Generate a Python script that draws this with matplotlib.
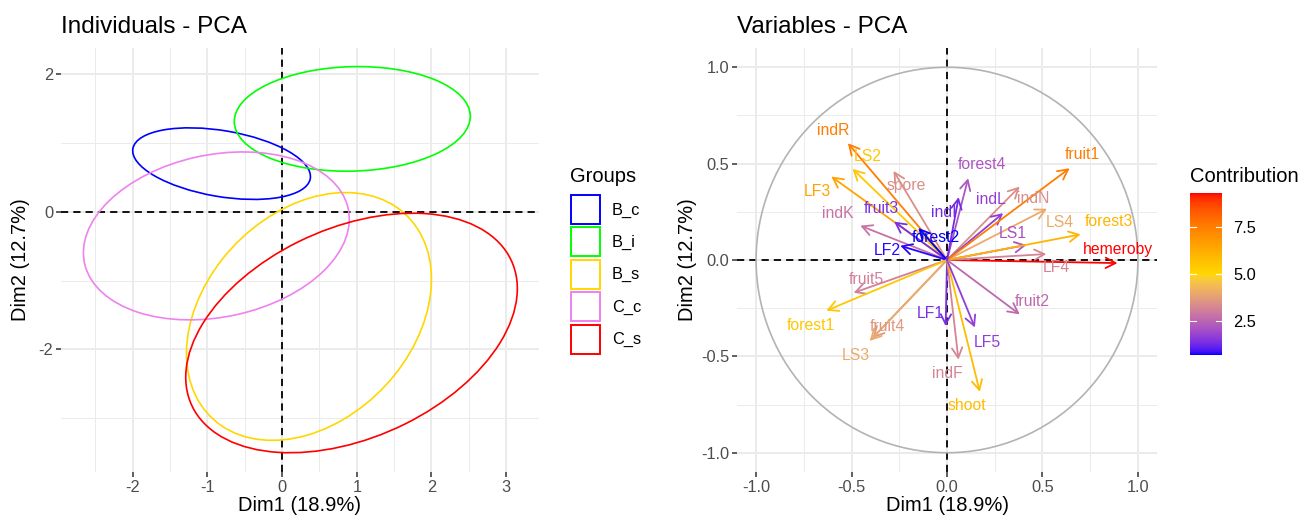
import numpy as np
import matplotlib
matplotlib.use("Agg")
import matplotlib.pyplot as plt
from matplotlib.patches import Ellipse, Rectangle, Circle, FancyArrowPatch
from matplotlib.colors import ListedColormap, Normalize

plt.rcParams['font.family'] = ['Liberation Sans', 'DejaVu Sans']
plt.rcParams['axes.unicode_minus'] = False

# --- individuals: confidence ellipses per group ---
groups = ["B_c", "B_i", "B_s", "C_c", "C_s"]
group_cols = ["#0000FF", "#00FF00", "#FFD700", "#EE82EE", "#FF0000"]
ell_cx = [-0.81, 0.94, 0.36, -0.88, 0.93]
ell_cy = [0.70, 1.35, -1.52, -0.35, -1.76]
ell_sx = [1.19, 1.58, 1.64, 1.78, 2.22]
ell_sy = [0.52, 0.76, 1.80, 1.22, 1.74]
ell_rho = [-0.36, 0.05, 0.30, 0.20, 0.37]

# --- variables: coordinates and contributions ---
var_names = ["hemeroby", "indR", "LS2", "spore", "LF3", "indK", "fruit3", "forest2",
             "LF2", "fruit5", "forest1", "fruit4", "LS3", "LF1", "indF", "shoot",
             "LF5", "fruit2", "LF4", "LS1", "forest3", "LS4", "indN", "indL",
             "fruit1", "forest4", "indI"]
dim1 = [0.893, -0.519, -0.495, -0.280, -0.606, -0.454, -0.277, -0.150,
        -0.245, -0.489, -0.632, -0.390, -0.405, -0.007, 0.060, 0.172,
        0.146, 0.381, 0.520, 0.416, 0.700, 0.524, 0.381, 0.294,
        0.642, 0.111, 0.061]
dim2 = [-0.016, 0.606, 0.473, 0.462, 0.433, 0.178, 0.199, 0.166,
        0.074, -0.170, -0.263, -0.405, -0.420, -0.343, -0.517, -0.684,
        -0.350, -0.282, 0.031, 0.078, 0.133, 0.266, 0.381, 0.243,
        0.476, 0.424, 0.326]
contrib = [9.3, 7.5, 5.5, 3.4, 6.5, 2.8, 1.4, 0.7,
           0.8, 3.1, 5.5, 3.6, 4.0, 1.4, 3.2, 5.8,
           1.7, 2.6, 3.2, 2.1, 6.0, 4.0, 3.4, 1.7,
           7.5, 2.2, 1.3]
# label positions (repelled text)
lab_x = [0.895, -0.595, -0.413, -0.214, -0.679, -0.574, -0.345, -0.057,
         -0.315, -0.425, -0.712, -0.310, -0.480, -0.089, 0.000, 0.106,
         0.213, 0.449, 0.573, 0.346, 0.846, 0.590, 0.451, 0.228,
         0.709, 0.181, -0.017]
lab_y = [0.055, 0.670, 0.536, 0.385, 0.358, 0.240, 0.266, 0.117,
         0.048, -0.100, -0.340, -0.345, -0.496, -0.276, -0.590, -0.756,
         -0.427, -0.217, -0.040, 0.139, 0.200, 0.196, 0.319, 0.314,
         0.548, 0.496, 0.248]

grad_cols = ["#0000FF", "#FFD700", "#FF0000"]


# =============================================================================
# --- colour gradient interpolated in Lab space (like ggplot) ---
# =============================================================================
M = np.array([[0.4124, 0.3576, 0.1805], [0.2126, 0.7152, 0.0722], [0.0193, 0.1192, 0.9505]])
WHITE = np.array([0.95047, 1.0, 1.08883])

def to_lab(hexcol):
    rgb = np.array(matplotlib.colors.to_rgb(hexcol))
    lin = np.where(rgb <= 0.04045, rgb / 12.92, ((rgb + 0.055) / 1.055) ** 2.4)
    t = M @ lin / WHITE
    f = np.where(t > 0.008856, np.cbrt(t), 7.787 * t + 16 / 116)
    return np.array([116 * f[1] - 16, 500 * (f[0] - f[1]), 200 * (f[1] - f[2])])

def from_lab(lab):
    fy = (lab[0] + 16) / 116
    f = np.array([fy + lab[1] / 500, fy, fy - lab[2] / 200])
    t = np.where(f ** 3 > 0.008856, f ** 3, (f - 16 / 116) / 7.787) * WHITE
    lin = np.clip(np.linalg.solve(M, t), 0, 1)
    rgb = np.where(lin <= 0.0031308, 12.92 * lin, 1.055 * lin ** (1 / 2.4) - 0.055)
    return np.clip(rgb, 0, 1)

labs = [to_lab(c) for c in grad_cols]
ramp = []
for s in np.linspace(0, 1, 256):
    seg = min(int(s * 2), 1)
    u = s * 2 - seg
    ramp.append(from_lab(labs[seg] * (1 - u) + labs[seg + 1] * u))
cmap = ListedColormap(ramp)
norm = Normalize(vmin=min(contrib), vmax=max(contrib))

# =============================================================================
# --- figure ---
# =============================================================================
W, H = 1303, 520
fig = plt.figure(figsize=(W / 100, H / 100), dpi=100)

def box(x0, y0, x1, y1):
    return [x0 / W, 1 - y1 / H, (x1 - x0) / W, (y1 - y0) / H]

GRID = "#EBEBEB"

def style(ax):
    for s in ax.spines.values():
        s.set_visible(False)
    ax.grid(True, which='major', color=GRID, lw=1.4, zorder=0)
    ax.grid(True, which='minor', color=GRID, lw=0.7, zorder=0)
    ax.set_axisbelow(True)
    ax.tick_params(which='major', length=3.5, width=1.1, color='#333333',
                   labelsize=11.8, labelcolor='#4D4D4D', pad=2)
    ax.tick_params(which='minor', length=0)
    ax.axhline(0, color='black', lw=1.3, dashes=(4, 2.8), zorder=1)
    ax.axvline(0, color='black', lw=1.3, dashes=(4, 2.8), zorder=1)

# --- Individuals ---
ax1 = fig.add_axes(box(61, 48, 539, 472))
style(ax1)
for i in range(len(groups)):
    cov = np.array([[ell_sx[i] ** 2, ell_rho[i] * ell_sx[i] * ell_sy[i]],
                    [ell_rho[i] * ell_sx[i] * ell_sy[i], ell_sy[i] ** 2]])
    vals, vecs = np.linalg.eigh(cov)
    ang = np.degrees(np.arctan2(vecs[1, 1], vecs[0, 1]))
    ax1.add_patch(Ellipse((ell_cx[i], ell_cy[i]), 2 * np.sqrt(vals[1]), 2 * np.sqrt(vals[0]),
                          angle=ang, fill=False, edgecolor=group_cols[i], lw=1.2, zorder=2))
ax1.set_xlim(-2.96, 3.44)
ax1.set_ylim(-3.78, 2.38)
ax1.set_xticks([-2, -1, 0, 1, 2, 3])
ax1.set_xticks(np.arange(-2.5, 3.5, 1.0), minor=True)
ax1.set_yticks([-2, 0, 2])
ax1.set_yticks([-3, -1, 1], minor=True)
ax1.set_xlabel("Dim1 (18.9%)", fontsize=14.5, labelpad=1)
ax1.set_ylabel("Dim2 (12.7%)", fontsize=14.5, labelpad=6)
ax1.set_title("Individuals - PCA", loc='left', fontsize=17.5, pad=11)

# legend "Groups"
fig.text(570 / W, 1 - 176 / H, "Groups", fontsize=14.5, va='center', ha='left')
for i, g in enumerate(groups):
    y0 = 195 + 32.4 * i
    fig.add_artist(Rectangle((571 / W, 1 - (y0 + 29) / H), 29 / W, 29 / H,
                             transform=fig.transFigure, fill=False,
                             edgecolor=group_cols[i], lw=1.4))
    fig.text(612 / W, 1 - (y0 + 15) / H, g, fontsize=11.8, va='center', ha='left')

# --- Variables ---
ax2 = fig.add_axes(box(737, 48, 1157, 472))
style(ax2)
ax2.add_patch(Circle((0, 0), 1.0, fill=False, edgecolor='#B3B3B3', lw=1.2, zorder=2))
for i in range(len(var_names)):
    col = cmap(norm(contrib[i]))
    ax2.add_patch(FancyArrowPatch((0, 0), (dim1[i], dim2[i]),
                                  arrowstyle='->,head_length=0.42,head_width=0.22',
                                  mutation_scale=17, color=col, lw=1.3,
                                  shrinkA=0, shrinkB=0, zorder=3))
for i in range(len(var_names)):
    col = cmap(norm(contrib[i]))
    ax2.text(lab_x[i], lab_y[i], var_names[i], color=col, fontsize=11.3,
             ha='center', va='center', zorder=4)
ax2.set_xlim(-1.1, 1.1)
ax2.set_ylim(-1.1, 1.1)
ticks = [-1.0, -0.5, 0.0, 0.5, 1.0]
ax2.set_xticks(ticks)
ax2.set_xticklabels(["-1.0", "-0.5", "0.0", "0.5", "1.0"])
ax2.set_yticks(ticks)
ax2.set_yticklabels(["-1.0", "-0.5", "0.0", "0.5", "1.0"])
ax2.set_xticks([-0.75, -0.25, 0.25, 0.75], minor=True)
ax2.set_yticks([-0.75, -0.25, 0.25, 0.75], minor=True)
ax2.set_xlabel("Dim1 (18.9%)", fontsize=14.5, labelpad=1)
ax2.set_ylabel("Dim2 (12.7%)", fontsize=14.5, labelpad=3)
ax2.set_title("Variables - PCA", loc='left', fontsize=17.5, pad=11)

# colour bar "Contribution"
cax = fig.add_axes(box(1190, 193, 1222, 355))
sm = matplotlib.cm.ScalarMappable(norm=norm, cmap=cmap)
cb = fig.colorbar(sm, cax=cax)
cb.outline.set_visible(False)
cb.set_ticks([2.5, 5.0, 7.5])
cb.set_ticklabels(["2.5", "5.0", "7.5"])
cax.tick_params(length=0, pad=8, labelsize=11.8)
for v in [2.5, 5.0, 7.5]:
    cax.axhline(v, xmin=0, xmax=0.2, color='white', lw=0.8)
    cax.axhline(v, xmin=0.8, xmax=1, color='white', lw=0.8)
fig.text(1190 / W, 1 - 176 / H, "Contribution", fontsize=14.5, va='center', ha='left')

fig.savefig("out.png", dpi=100)
